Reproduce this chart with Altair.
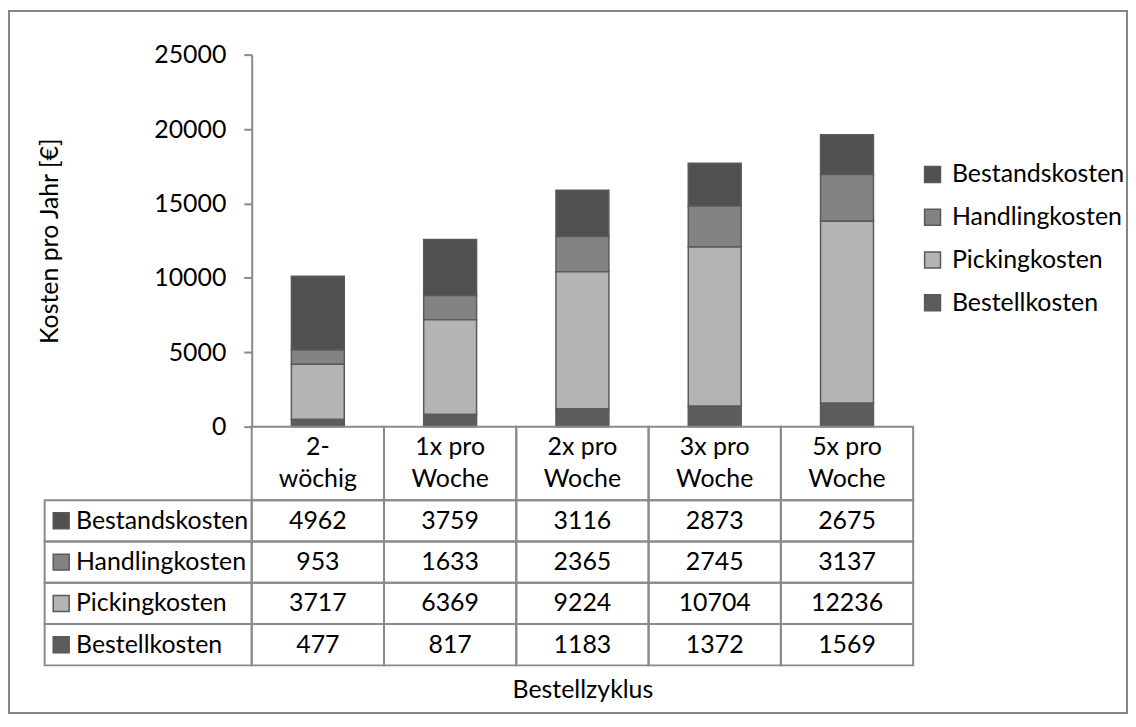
import altair as alt
import pandas as pd

# ---------------- data ----------------
categories = ["2-wöchig", "1x pro Woche", "2x pro Woche", "3x pro Woche", "5x pro Woche"]
header_labels = ["2-\nwöchig", "1x pro\nWoche", "2x pro\nWoche", "3x pro\nWoche", "5x pro\nWoche"]
series = ["Bestandskosten", "Handlingkosten", "Pickingkosten", "Bestellkosten"]
bestandskosten = [4962, 3759, 3116, 2873, 2675]
handlingkosten = [953, 1633, 2365, 2745, 3137]
pickingkosten = [3717, 6369, 9224, 10704, 12236]
bestellkosten = [477, 817, 1183, 1372, 1569]
y_ticks = [0, 5000, 10000, 15000, 20000, 25000]

# ---------------- styles ----------------
colors = ["#505050", "#838383", "#b4b4b4", "#5c5c5c"]
FONT = "Lato"
FS = 25
GRID = "#8a8a8a"
BAR_STROKE = "#5a5a5a"
PLOT_W, PLOT_H = 665, 374
HEADER_H = 1.78      # header row height, in table-row units
LABEL_COL = 1.565    # width of the row-label column, in category-column units
SQUARE_IN = 0.125    # square centre offset from label column left edge (column units)
TEXT_IN = 0.237      # label text offset from label column left edge (column units)
TABLE_H = 240

values_by_series = [bestandskosten, handlingkosten, pickingkosten, bestellkosten]

rows = []
for si, s in enumerate(series):
    for ci, c in enumerate(categories):
        rows.append({
            "category": c,
            "series": s,
            "value": values_by_series[si][ci],
            "stack_order": len(series) - 1 - si,
            "xc": ci + 0.5,
            "yc": HEADER_H + si + 0.5,
        })
df = pd.DataFrame(rows)

# ---------------- chart-area frame ----------------
frame = alt.Chart(pd.DataFrame({"f": [0]})).mark_rect(
    fill="white", fillOpacity=0, stroke="#868686", strokeWidth=2
).encode(x=alt.value(-244), x2=alt.value(880), y=alt.value(-44), y2=alt.value(662))

# ---------------- top: stacked bars ----------------
bars = alt.Chart(df).mark_bar(stroke=BAR_STROKE, strokeWidth=1.5).encode(
    x=alt.X("category:N", sort=categories, axis=None,
            scale=alt.Scale(paddingInner=0.6, paddingOuter=0.3)),
    y=alt.Y("value:Q", stack="zero",
            scale=alt.Scale(domain=[0, 25000], nice=False),
            axis=alt.Axis(values=y_ticks, format="d", title="Kosten pro Jahr [€]", grid=False,
                          domainColor=GRID, domainWidth=2, tickColor=GRID, tickWidth=2,
                          tickSize=8, labelPadding=18, labelFont=FONT, labelFontSize=FS,
                          labelColor="black", titleFont=FONT, titleFontSize=FS,
                          titleFontWeight="normal", titleColor="black", titlePadding=92)),
    color=alt.Color("series:N", scale=alt.Scale(domain=series, range=colors),
                    legend=alt.Legend(title=None, orient="none", legendX=672, legendY=108,
                                      symbolType="square", symbolSize=256,
                                      symbolStrokeColor="#595959", symbolStrokeWidth=1.5,
                                      labelFont=FONT, labelFontSize=FS, labelColor="black",
                                      labelLimit=0, labelOffset=7, rowPadding=17, padding=0)),
    order=alt.Order("stack_order:Q"),
)
top = alt.layer(frame, bars).properties(width=PLOT_W, height=PLOT_H)

# ---------------- bottom: data table ----------------
cells = []
for ci in range(len(categories)):
    cells.append({"x0": ci, "x1": ci + 1, "y0": 0, "y1": HEADER_H})
for si in range(len(series)):
    cells.append({"x0": -LABEL_COL, "x1": 0, "y0": HEADER_H + si, "y1": HEADER_H + si + 1})
    for ci in range(len(categories)):
        cells.append({"x0": ci, "x1": ci + 1, "y0": HEADER_H + si, "y1": HEADER_H + si + 1})
cells_df = pd.DataFrame(cells)

headers_df = pd.DataFrame({"label": header_labels,
                           "xc": [i + 0.5 for i in range(len(categories))],
                           "yc": [HEADER_H / 2] * len(categories)})
labels_df = pd.DataFrame({"series": series,
                          "xs": [-LABEL_COL + SQUARE_IN] * len(series),
                          "xt": [-LABEL_COL + TEXT_IN] * len(series),
                          "yc": [HEADER_H + i + 0.5 for i in range(len(series))]})

xs = alt.Scale(domain=[0, len(categories)], nice=False, zero=False)
ys = alt.Scale(domain=[0, HEADER_H + len(series)], nice=False, zero=False, reverse=True)
x_axis = alt.Axis(title="Bestellzyklus", labels=False, ticks=False, domain=False, grid=False,
                  titleFont=FONT, titleFontSize=FS, titleFontWeight="normal",
                  titleColor="black", titlePadding=12)

grid = alt.Chart(cells_df).mark_rect(fill="white", fillOpacity=0, stroke=GRID, strokeWidth=2).encode(
    x=alt.X("x0:Q", scale=xs, axis=x_axis), x2="x1:Q",
    y=alt.Y("y0:Q", scale=ys, axis=None), y2="y1:Q",
)
value_text = alt.Chart(df).mark_text(font=FONT, fontSize=FS, color="black").encode(
    x=alt.X("xc:Q", scale=xs), y=alt.Y("yc:Q", scale=ys), text="value:Q",
)
header_text = alt.Chart(headers_df).mark_text(font=FONT, fontSize=FS, color="black",
                                              lineBreak="\n", lineHeight=32, dy=-16).encode(
    x=alt.X("xc:Q", scale=xs), y=alt.Y("yc:Q", scale=ys), text="label:N",
)
label_text = alt.Chart(labels_df).mark_text(font=FONT, fontSize=FS, color="black", align="left").encode(
    x=alt.X("xt:Q", scale=xs), y=alt.Y("yc:Q", scale=ys), text="series:N",
)
squares = alt.Chart(labels_df).mark_point(shape="square", filled=True, size=256,
                                          stroke="#595959", strokeWidth=1.5, opacity=1).encode(
    x=alt.X("xs:Q", scale=xs), y=alt.Y("yc:Q", scale=ys),
    fill=alt.Fill("series:N", scale=alt.Scale(domain=series, range=colors), legend=None),
)

bottom = alt.layer(grid, value_text, header_text, label_text, squares).properties(
    width=PLOT_W, height=TABLE_H)

chart = alt.vconcat(top, bottom, spacing=0, bounds="flush").resolve_scale(
    x="independent", y="independent"
).properties(
    padding={"left": 0, "top": 0, "right": 0, "bottom": 0}
).configure_view(stroke=None)

chart.save("out.html", embed_options={"renderer": "svg", "actions": False})
